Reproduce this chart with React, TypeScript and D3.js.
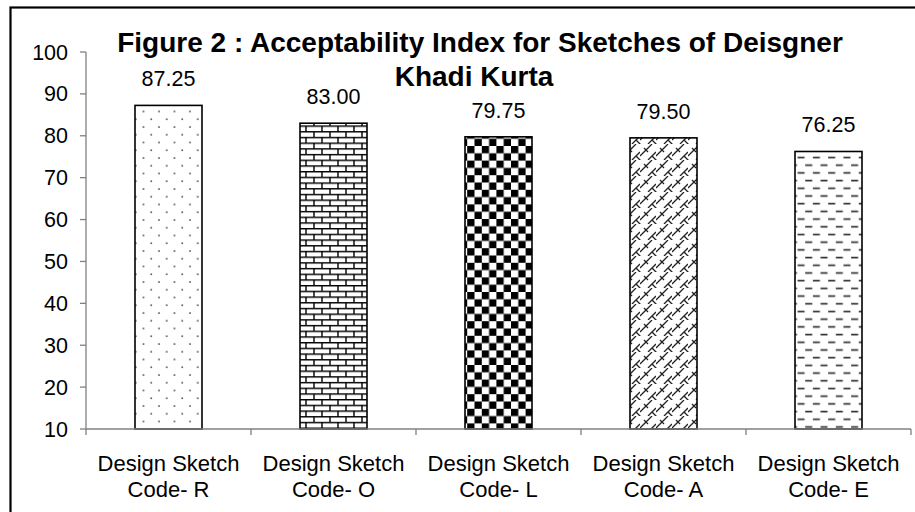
import React, { useEffect, useRef } from 'react';
import * as d3 from 'd3';

const categories = ['R', 'O', 'L', 'A', 'E'];
const values = [87.25, 83.0, 79.75, 79.5, 76.25];
const yTicks = [10, 20, 30, 40, 50, 60, 70, 80, 90, 100];
const patterns = ['dots', 'brick', 'checker', 'weave', 'dash'];

const App = () => {
  const ref = useRef<SVGSVGElement | null>(null);

  useEffect(() => {
    const svg = d3.select(ref.current);
    svg.selectAll('*').remove();

    const width = 915;
    const height = 512;
    const left = 86;
    const right = 911;
    const top = 52;
    const bottom = 429;
    const font = 'Arial, "Liberation Sans", sans-serif';

    const defs = svg.append('defs');

    // dots
    const pDots = defs.append('pattern').attr('id', 'dots').attr('patternUnits', 'userSpaceOnUse')
      .attr('width', 15.5).attr('height', 15.5);
    pDots.append('rect').attr('width', 15.5).attr('height', 15.5).attr('fill', '#fff');
    pDots.append('circle').attr('cx', 4).attr('cy', 3).attr('r', 0.9).attr('fill', '#333');
    pDots.append('circle').attr('cx', 11.75).attr('cy', 10.75).attr('r', 0.9).attr('fill', '#333');

    // brick
    const pBrick = defs.append('pattern').attr('id', 'brick').attr('patternUnits', 'userSpaceOnUse')
      .attr('width', 16).attr('height', 11.4);
    pBrick.append('rect').attr('width', 16).attr('height', 11.4).attr('fill', '#fff');
    pBrick.append('path')
      .attr('d', 'M0,0.7H16M0,6.4H16M2,0V5.7M10,5.7V11.4')
      .attr('stroke', '#000').attr('stroke-width', 1.4).attr('fill', 'none');

    // checker
    const pCheck = defs.append('pattern').attr('id', 'checker').attr('patternUnits', 'userSpaceOnUse')
      .attr('width', 14.6).attr('height', 14.6);
    pCheck.append('rect').attr('width', 14.6).attr('height', 14.6).attr('fill', '#fff');
    pCheck.append('rect').attr('x', 0).attr('y', 0).attr('width', 7.3).attr('height', 7.3).attr('fill', '#000');
    pCheck.append('rect').attr('x', 7.3).attr('y', 7.3).attr('width', 7.3).attr('height', 7.3).attr('fill', '#000');

    // weave
    const pWeave = defs.append('pattern').attr('id', 'weave').attr('patternUnits', 'userSpaceOnUse')
      .attr('width', 16).attr('height', 16);
    pWeave.append('rect').attr('width', 16).attr('height', 16).attr('fill', '#fff');
    pWeave.append('path')
      .attr('d', 'M0,12L12,0M8,16L16,8M4,4L8,8M12,12L16,16M-1,15L1,17')
      .attr('stroke', '#222').attr('stroke-width', 1.3).attr('fill', 'none');

    // dashes
    const pDash = defs.append('pattern').attr('id', 'dash').attr('patternUnits', 'userSpaceOnUse')
      .attr('width', 15.3).attr('height', 15.4);
    pDash.append('rect').attr('width', 15.3).attr('height', 15.4).attr('fill', '#fff');
    pDash.append('path')
      .attr('d', 'M2,3.5H9M9.65,11.2H15.3M0,11.2H1.35')
      .attr('stroke', '#333').attr('stroke-width', 1.6).attr('fill', 'none');

    svg.append('rect').attr('width', width).attr('height', height).attr('fill', '#fff');
    // outer frame
    svg.append('rect').attr('x', 10.5).attr('y', 7.5).attr('width', 920).attr('height', 520)
      .attr('fill', 'none').attr('stroke', '#000').attr('stroke-width', 2.2);

    const x = d3.scaleBand<string>().domain(categories).range([left, right]).paddingInner(0).paddingOuter(0);
    const y = d3.scaleLinear().domain([10, 100]).range([bottom, top]);
    const barW = 67;

    const g = svg.append('g');
    g.selectAll('rect.bar').data(values).enter().append('rect')
      .attr('class', 'bar')
      .attr('x', (_, i) => (x(categories[i]) as number) + x.bandwidth() / 2 - barW / 2)
      .attr('y', d => y(d))
      .attr('width', barW)
      .attr('height', d => bottom - y(d))
      .attr('fill', (_, i) => `url(#${patterns[i]})`)
      .attr('stroke', '#000').attr('stroke-width', 1.6);

    g.selectAll('text.val').data(values).enter().append('text')
      .attr('x', (_, i) => (x(categories[i]) as number) + x.bandwidth() / 2)
      .attr('y', d => y(d) - 19)
      .attr('text-anchor', 'middle')
      .attr('font-family', font).attr('font-size', 21.5)
      .text(d => d.toFixed(2));

    // y axis
    svg.append('line').attr('x1', left).attr('x2', left).attr('y1', top).attr('y2', bottom)
      .attr('stroke', '#808080').attr('stroke-width', 1.3);
    yTicks.forEach(t => {
      svg.append('line').attr('x1', left - 6).attr('x2', left).attr('y1', y(t)).attr('y2', y(t))
        .attr('stroke', '#808080').attr('stroke-width', 1.3);
      svg.append('text').attr('x', 68).attr('y', y(t) + 7.5)
        .attr('text-anchor', 'end').attr('font-family', font).attr('font-size', 21.5)
        .text(t);
    });

    // x axis
    svg.append('line').attr('x1', left).attr('x2', right).attr('y1', bottom).attr('y2', bottom)
      .attr('stroke', '#808080').attr('stroke-width', 1.3);
    const edges = categories.map(c => x(c) as number).concat([right]);
    edges.forEach(e => {
      svg.append('line').attr('x1', e).attr('x2', e).attr('y1', bottom).attr('y2', bottom + 6)
        .attr('stroke', '#808080').attr('stroke-width', 1.3);
    });
    categories.forEach(c => {
      const cx = (x(c) as number) + x.bandwidth() / 2;
      svg.append('text').attr('x', cx).attr('y', 471).attr('text-anchor', 'middle')
        .attr('font-family', font).attr('font-size', 22).text('Design Sketch');
      svg.append('text').attr('x', cx).attr('y', 497).attr('text-anchor', 'middle')
        .attr('font-family', font).attr('font-size', 22).text(`Code- ${c}`);
    });

    // title
    svg.append('text').attr('x', 480).attr('y', 52).attr('text-anchor', 'middle')
      .attr('font-family', font).attr('font-size', 28).attr('font-weight', 'bold')
      .text('Figure 2 : Acceptability Index for Sketches of Deisgner');
    svg.append('text').attr('x', 474).attr('y', 86).attr('text-anchor', 'middle')
      .attr('font-family', font).attr('font-size', 28).attr('font-weight', 'bold')
      .text('Khadi Kurta');
  }, []);

  return (
    <svg ref={ref} width={915} height={512}
      style={{ position: 'absolute', left: 0, top: 0, display: 'block' }} />
  );
};

export default App;
